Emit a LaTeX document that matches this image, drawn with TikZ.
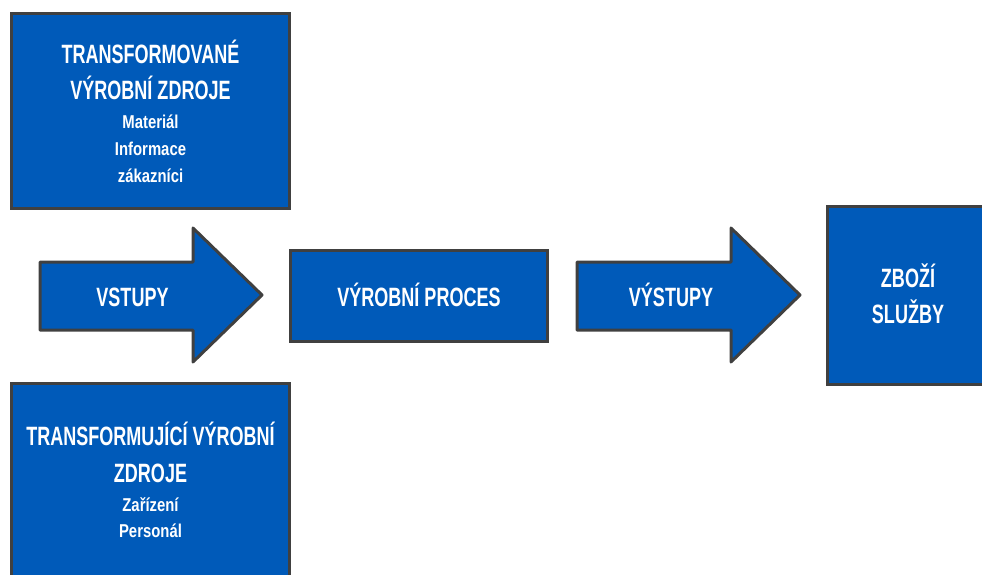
\documentclass[tikz,border=0pt]{standalone}
\usepackage{fontspec}
\setmainfont{Liberation Sans}
\newfontfamily\headfont[FakeStretch=0.68]{Liberation Sans}
\newfontfamily\itemfont[FakeStretch=0.8]{Liberation Sans}
\usepackage{tikz}
\definecolor{boxblue}{RGB}{0,90,185}
\definecolor{edgegray}{RGB}{64,64,64}
\tikzstyle{block} = [rectangle, draw=edgegray, fill=boxblue, line width=3pt,
                     inner sep=0pt]
\tikzstyle{head} = [text=white, align=center, inner sep=0pt, anchor=base,
                    font=\headfont\bfseries\fontsize{26.5}{36}\selectfont]
\tikzstyle{item} = [text=white, align=center, inner sep=0pt, anchor=base,
                    font=\itemfont\bfseries\fontsize{18.6}{27}\selectfont]
\tikzstyle{arrowbody} = [draw=edgegray, fill=boxblue, line width=3pt, line join=round]

\begin{document}
\begin{tikzpicture}[x=1pt,y=-1pt]
\useasboundingbox (0,0) rectangle (982,574);
\clip (0,0) rectangle (982,574);

% Zdroje
\node[block, minimum width=278pt, minimum height=195pt] at (150.5,111) (transformovane){};
\node[head] at (150.5,99) (transformovanehead){TRANSFORMOVANÉ\\VÝROBNÍ ZDROJE};
\node[item] at (150.5,182) (transformovaneitems){Materiál\\Informace\\zákazníci};

\node[block, minimum width=278pt, minimum height=195pt] at (150.5,481) (transformujici){};
\node[head, font=\headfont\bfseries\fontsize{26.5}{37}\selectfont] at (150.5,482) (transformujicihead){TRANSFORMUJÍCÍ VÝROBNÍ\\ZDROJE};
\node[item, font=\itemfont\bfseries\fontsize{18.6}{26}\selectfont] at (150.5,537) (transformujiciitems){Zařízení\\Personál};

% Vstupy
\draw[arrowbody] (40,262) -- (193,262) -- (193,228) -- (262,295) -- (193,362) -- (193,330) -- (40,330) -- cycle;
\node[head] at (132.5,306) (vstupy){VSTUPY};

% Proces
\node[block, minimum width=257pt, minimum height=91pt] at (419,296) (proces){};
\node[head] at (419,306) (proceslabel){VÝROBNÍ PROCES};

% Vystupy
\draw[arrowbody] (577,262) -- (731,262) -- (731,228) -- (800,295) -- (731,362) -- (731,330) -- (577,330) -- cycle;
\node[head] at (671,306) (vystupy){VÝSTUPY};

% Zbozi
\node[block, minimum width=161pt, minimum height=178pt] at (908,295.5) (zbozi){};
\node[head] at (908,323) (zbozilabel){ZBOŽÍ\\SLUŽBY};
\end{tikzpicture}
\end{document}
